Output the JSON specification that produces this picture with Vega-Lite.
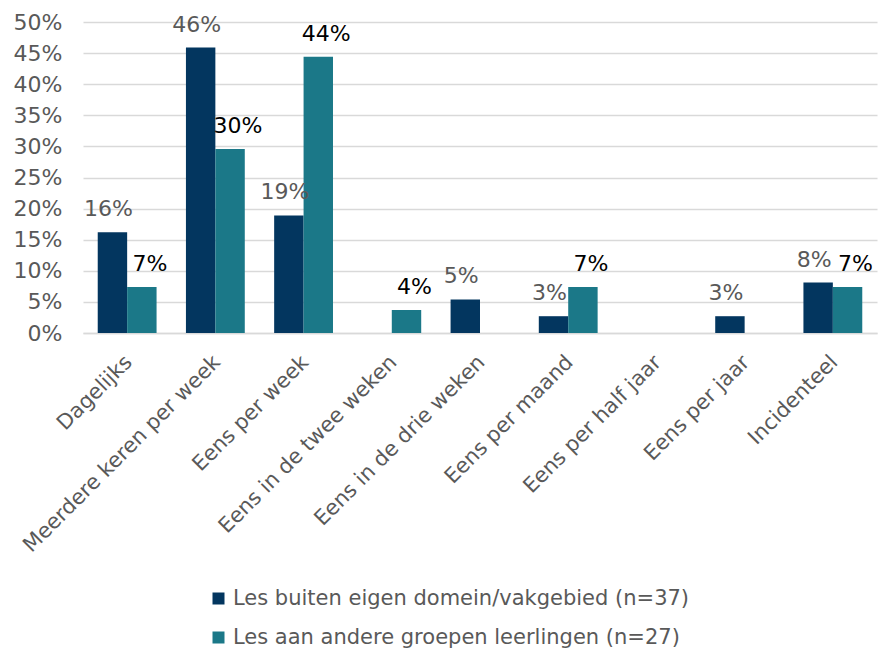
{
  "$schema": "https://vega.github.io/schema/vega-lite/v6.json",
  "width": 794,
  "height": 311,
  "autosize": {"type": "none"},
  "padding": {"left": 83, "top": 22, "right": 3, "bottom": 319},
  "config": {
    "font": "DejaVu Sans",
    "view": {"stroke": null},
    "axis": {"labelFont": "DejaVu Sans", "labelFontSize": 21, "labelColor": "#595959", "ticks": false, "tickSize": 0, "title": null}
  },
  "data": {
    "values": [
      {"cat": "Dagelijks", "series": "Les buiten eigen domein/vakgebied (n=37)", "value": 0.162},
      {"cat": "Dagelijks", "series": "Les aan andere groepen leerlingen (n=27)", "value": 0.074},
      {"cat": "Meerdere keren per week", "series": "Les buiten eigen domein/vakgebied (n=37)", "value": 0.459},
      {"cat": "Meerdere keren per week", "series": "Les aan andere groepen leerlingen (n=27)", "value": 0.296},
      {"cat": "Eens per week", "series": "Les buiten eigen domein/vakgebied (n=37)", "value": 0.189},
      {"cat": "Eens per week", "series": "Les aan andere groepen leerlingen (n=27)", "value": 0.444},
      {"cat": "Eens in de twee weken", "series": "Les aan andere groepen leerlingen (n=27)", "value": 0.037},
      {"cat": "Eens in de drie weken", "series": "Les buiten eigen domein/vakgebied (n=37)", "value": 0.054},
      {"cat": "Eens per maand", "series": "Les buiten eigen domein/vakgebied (n=37)", "value": 0.027},
      {"cat": "Eens per maand", "series": "Les aan andere groepen leerlingen (n=27)", "value": 0.074},
      {"cat": "Eens per jaar", "series": "Les buiten eigen domein/vakgebied (n=37)", "value": 0.027},
      {"cat": "Incidenteel", "series": "Les buiten eigen domein/vakgebied (n=37)", "value": 0.081},
      {"cat": "Incidenteel", "series": "Les aan andere groepen leerlingen (n=27)", "value": 0.074}
    ]
  },
  "encoding": {
    "x": {
      "field": "cat",
      "type": "nominal",
      "sort": null,
      "scale": {
        "domain": ["Dagelijks", "Meerdere keren per week", "Eens per week", "Eens in de twee weken", "Eens in de drie weken", "Eens per maand", "Eens per half jaar", "Eens per jaar", "Incidenteel"],
        "paddingInner": 0.333,
        "paddingOuter": 0.167
      },
      "axis": {"labelAngle": -45, "labelPadding": 18, "labelOffset": -6, "labelLimit": 500, "domain": true, "domainColor": "#D9D9D9", "domainWidth": 1.5, "grid": false}
    },
    "xOffset": {
      "field": "series",
      "type": "nominal",
      "scale": {"domain": ["Les buiten eigen domein/vakgebied (n=37)", "Les aan andere groepen leerlingen (n=27)"]}
    },
    "y": {
      "field": "value",
      "type": "quantitative",
      "scale": {"domain": [0, 0.5], "nice": false},
      "axis": {"values": [0, 0.05, 0.1, 0.15, 0.2, 0.25, 0.3, 0.35, 0.4, 0.45, 0.5], "format": ".0%", "labelFontSize": 22, "domain": false, "grid": true, "gridColor": "#D9D9D9", "gridWidth": 1.5, "labelPadding": 21}
    }
  },
  "layer": [
    {
      "mark": {"type": "bar"},
      "encoding": {
        "color": {
          "field": "series",
          "type": "nominal",
          "scale": {"domain": ["Les buiten eigen domein/vakgebied (n=37)", "Les aan andere groepen leerlingen (n=27)"], "range": ["#03365F", "#1B7888"]},
          "legend": {
            "title": null,
            "orient": "none",
            "legendX": 125,
            "legendY": 566,
            "direction": "vertical",
            "symbolType": "square",
            "symbolSize": 144,
            "symbolStrokeWidth": 0,
            "labelFontSize": 21,
            "labelColor": "#595959",
            "labelFont": "DejaVu Sans",
            "labelLimit": 600,
            "labelOffset": 4,
            "rowPadding": 17
          }
        }
      }
    },
    {
      "transform": [{"filter": "datum.series === 'Les buiten eigen domein/vakgebied (n=37)'"}],
      "mark": {"type": "text", "dy": -16, "dx": -4, "baseline": "alphabetic", "fontSize": 22, "font": "DejaVu Sans", "color": "#595959"},
      "encoding": {
        "text": {"field": "value", "type": "quantitative", "format": ".0%"}
      }
    },
    {
      "transform": [{"filter": "datum.series === 'Les aan andere groepen leerlingen (n=27)'"}],
      "mark": {"type": "text", "dy": -16, "dx": 8, "baseline": "alphabetic", "fontSize": 22, "font": "DejaVu Sans", "color": "#000000"},
      "encoding": {
        "text": {"field": "value", "type": "quantitative", "format": ".0%"}
      }
    }
  ]
}
